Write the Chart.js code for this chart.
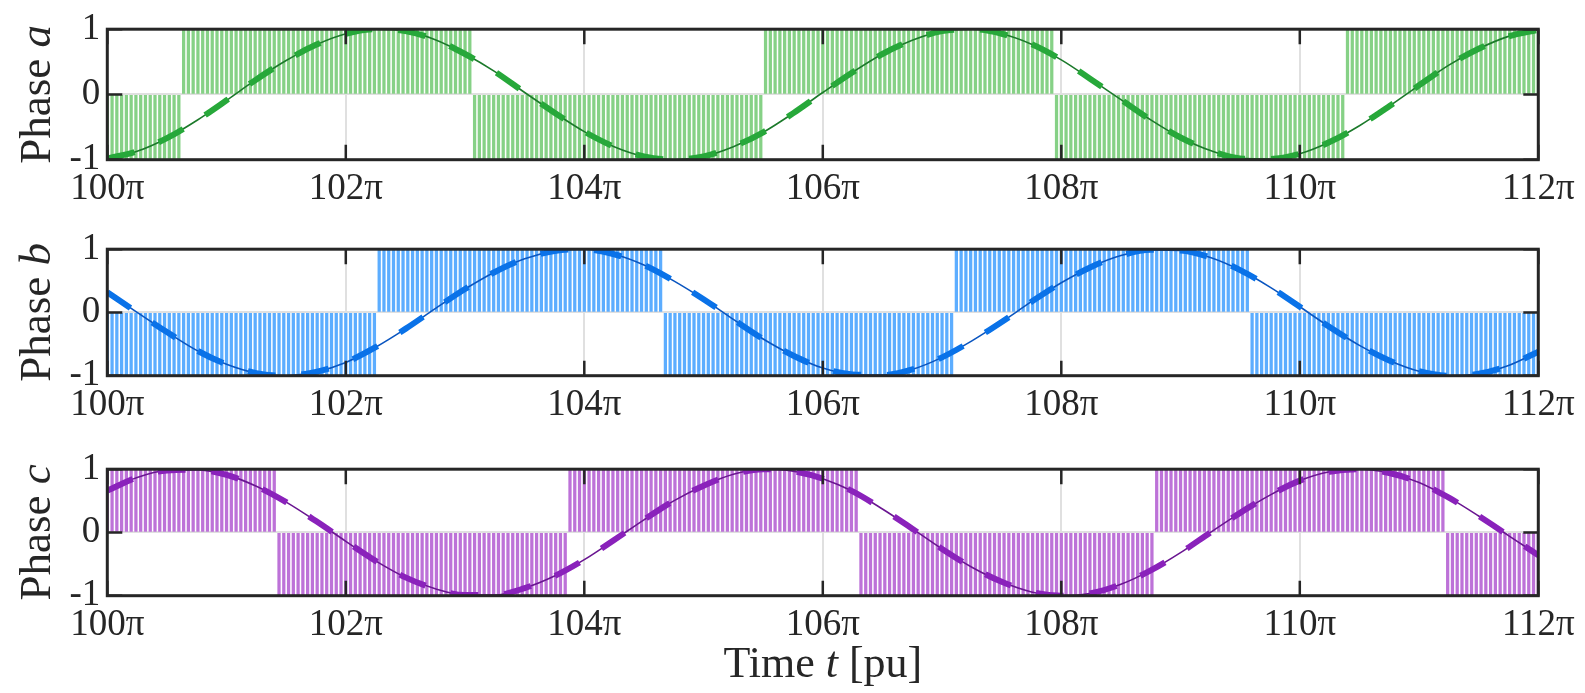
<!DOCTYPE html>
<html>
<head>
<meta charset="utf-8">
<title>Phase a, b, c</title>
<script src="https://cdn.jsdelivr.net/npm/chart.js@4.4.1/dist/chart.umd.min.js"></script>
<style>
  html, body { margin: 0; padding: 0; background: #fff; }
  #wrap { position: relative; width: 1585px; height: 693px; overflow: hidden; }
  #wrap canvas { position: absolute; left: 0; }
</style>
</head>
<body>
<div id="wrap">
  <canvas id="pa" width="1585" height="220" style="top:0"></canvas>
  <canvas id="pb" width="1585" height="220" style="top:220px"></canvas>
  <canvas id="pc" width="1585" height="253" style="top:440px"></canvas>
</div>
<script>
// time axis is in units of pi (t = value * pi)
const xTicks = [100, 102, 104, 106, 108, 110, 112];
const yTicks = [-1, 0, 1];

// waveform samples, one every 0.25 pi from 100 pi to 112 pi
const curveT = Array.from({ length: 49 }, (_, i) => 100 + i * 0.25);

const phaseA = [
  -0.98, -0.87, -0.67, -0.40, -0.09, 0.23, 0.52, 0.76, 0.93, 1.00,
  0.97, 0.84, 0.62, 0.35, 0.03, -0.28, -0.57, -0.80, -0.95, -1.00,
  -0.95, -0.80, -0.58, -0.29, 0.03, 0.34, 0.62, 0.83, 0.97, 1.00,
  0.93, 0.77, 0.53, 0.23, -0.08, -0.39, -0.66, -0.86, -0.98, -0.99,
  -0.91, -0.73, -0.48, -0.18, 0.14, 0.45, 0.70, 0.89, 0.99,
];
const phaseB = [
  0.32, 0.00, -0.31, -0.60, -0.82, -0.96, -1.00, -0.94, -0.79, -0.55,
  -0.26, 0.06, 0.37, 0.64, 0.85, 0.97, 1.00, 0.92, 0.75, 0.50,
  0.21, -0.11, -0.42, -0.68, -0.88, -0.98, -0.99, -0.90, -0.71, -0.45,
  -0.15, 0.17, 0.47, 0.72, 0.90, 0.99, 0.98, 0.87, 0.67, 0.40,
  0.09, -0.23, -0.52, -0.76, -0.93, -1.00, -0.97, -0.84, -0.62,
];
const phaseC = [
  0.66, 0.87, 0.98, 0.99, 0.91, 0.73, 0.48, 0.18, -0.14, -0.45,
  -0.71, -0.89, -0.99, -0.99, -0.88, -0.69, -0.43, -0.12, 0.20, 0.50,
  0.74, 0.92, 1.00, 0.97, 0.85, 0.65, 0.37, 0.06, -0.26, -0.55,
  -0.78, -0.94, -1.00, -0.96, -0.82, -0.60, -0.32, 0.00, 0.31, 0.59,
  0.82, 0.96, 1.00, 0.94, 0.79, 0.55, 0.26, -0.05, -0.36,
];

// pulse trains: switching instants (units of pi) and sign at t = 100 pi
const switchA = [100.632, 103.06, 105.51, 107.93, 110.385];
const switchB = [102.25, 104.68, 107.12, 109.57];
const switchC = [101.415, 103.865, 106.32, 108.765, 111.21];
const startA = -1, startB = -1, startC = 1;

// one stem every 0.04 pi
const stemT = Array.from({ length: 301 }, (_, i) => 100 + i * 0.04);

const PLOT_LEFT = 107.3;
const PLOT_RIGHT = 1538.3;
const SERIF = '"Liberation Serif", "Times New Roman", serif';
const INK = '#262626';

function stems(switches, start) {
  return stemT.map((t) => {
    const n = switches.filter((s) => s <= t).length;
    return { x: t, y: n % 2 ? -start : start };
  });
}

function drawParts(ctx, parts, size, cx, base) {
  const fonts = parts.map(([, it]) => `${it ? 'italic ' : ''}${size}px ${SERIF}`);
  const widths = parts.map(([txt], i) => { ctx.font = fonts[i]; return ctx.measureText(txt).width; });
  let x = cx - widths.reduce((a, b) => a + b, 0) / 2;
  ctx.textAlign = 'left';
  ctx.textBaseline = 'alphabetic';
  parts.forEach(([txt], i) => { ctx.font = fonts[i]; ctx.fillText(txt, x, base); x += widths[i]; });
}

// MATLAB-like box, inner tick marks and axis titles
const frame = {
  id: 'frame',
  afterDatasetsDraw(chart, args, opts) {
    const { ctx, chartArea: a, scales: { x, y } } = chart;
    ctx.save();
    ctx.strokeStyle = INK;
    ctx.fillStyle = INK;
    ctx.lineWidth = 2.5;
    const L = 15;
    ctx.beginPath();
    xTicks.forEach((v) => {
      const px = x.getPixelForValue(v);
      ctx.moveTo(px, a.bottom); ctx.lineTo(px, a.bottom - L);
      ctx.moveTo(px, a.top); ctx.lineTo(px, a.top + L);
    });
    yTicks.forEach((v) => {
      const py = y.getPixelForValue(v);
      ctx.moveTo(a.left, py); ctx.lineTo(a.left + L, py);
      ctx.moveTo(a.right, py); ctx.lineTo(a.right - L, py);
    });
    ctx.stroke();
    ctx.lineWidth = 3;
    ctx.strokeRect(a.left, a.top, a.right - a.left, a.bottom - a.top);

    // y title, rotated
    ctx.save();
    ctx.translate(50, (a.top + a.bottom) / 2);
    ctx.rotate(-Math.PI / 2);
    drawParts(ctx, [['Phase ', false], [opts.name, true]], 45, 0, 0);
    ctx.restore();

    if (opts.xTitle) {
      drawParts(ctx, [['Time ', false], ['t', true], [' [pu]', false]], 44, (a.left + a.right) / 2, 236.7);
    }
    ctx.restore();
  },
};

const panels = [
  { id: 'pa', name: 'a', values: phaseA, sw: switchA, start: startA, top: 22, bottom: 159.7, h: 220, xTitle: false,
    stem: '#86d186', dash: '#27a83a', line: '#1c7a2b' },
  { id: 'pb', name: 'b', values: phaseB, sw: switchB, start: startB, top: 21.7, bottom: 155.7, h: 220, xTitle: false,
    stem: '#5cadff', dash: '#0a72e8', line: '#0b56c0' },
  { id: 'pc', name: 'c', values: phaseC, sw: switchC, start: startC, top: 21.7, bottom: 155.7, h: 253, xTitle: true,
    stem: '#bd72d8', dash: '#8a22bb', line: '#6a1691' },
];

const gridOpts = { color: '#e0e0e0', lineWidth: 2, drawTicks: false, offset: false };
const tickFont = { family: SERIF, size: 37 };

panels.forEach((p) => {
  const curve = curveT.map((t, i) => ({ x: t, y: p.values[i] }));
  new Chart(document.getElementById(p.id), {
    type: 'bar',
    data: {
      datasets: [
        { type: 'line', data: curve, borderColor: p.dash, borderWidth: 6, borderDash: [28, 26],
          pointRadius: 0, cubicInterpolationMode: 'monotone', order: 0 },
        { type: 'line', data: curve, borderColor: p.line, borderWidth: 1.6,
          pointRadius: 0, cubicInterpolationMode: 'monotone', order: 1 },
        { type: 'bar', data: stems(p.sw, p.start), backgroundColor: p.stem,
          barThickness: 2.6, grouped: false, order: 2 },
      ],
    },
    options: {
      responsive: false,
      animation: false,
      events: [],
      layout: { padding: { left: 0, right: 1585 - PLOT_RIGHT, top: p.top, bottom: 0 } },
      plugins: {
        legend: { display: false },
        tooltip: { enabled: false },
        frame: { name: p.name, xTitle: p.xTitle },
      },
      scales: {
        x: {
          type: 'linear', min: 100, max: 112, offset: false,
          afterBuildTicks: (s) => { s.ticks = xTicks.map((v) => ({ value: v })); },
          afterFit: (s) => { s.height = p.h - p.bottom; },
          grid: gridOpts,
          border: { display: false },
          ticks: { font: tickFont, color: INK, padding: 7, maxRotation: 0, autoSkip: false,
            callback: (v) => v + 'π' },
        },
        y: {
          min: -1, max: 1,
          afterBuildTicks: (s) => { s.ticks = yTicks.map((v) => ({ value: v })); },
          afterFit: (s) => { s.width = PLOT_LEFT; },
          grid: gridOpts,
          border: { display: false },
          ticks: { font: tickFont, color: INK, padding: 7, callback: (v) => String(v) },
        },
      },
    },
    plugins: [frame],
  });
});
</script>
</body>
</html>
